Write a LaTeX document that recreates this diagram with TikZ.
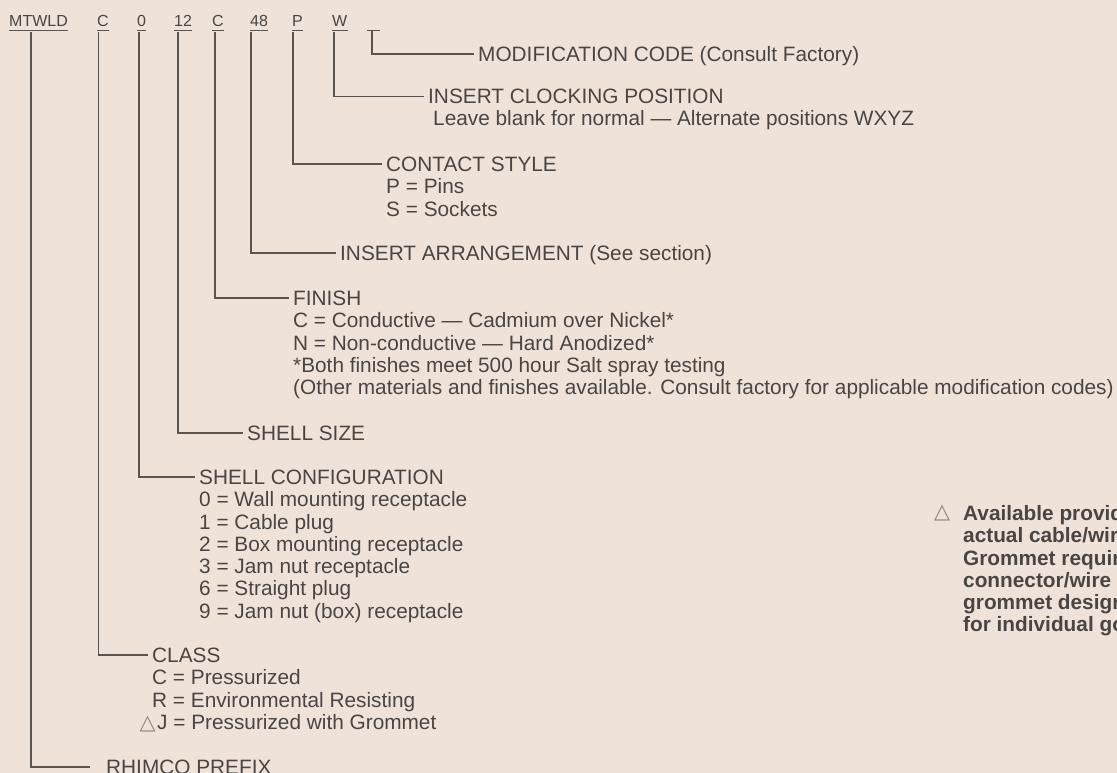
\documentclass[tikz,border=0pt]{standalone}
\usepackage{fontspec}
\setmainfont{Liberation Sans}
\newfontfamily\symfont{DejaVu Sans}
\usetikzlibrary{calc}
\definecolor{paper}{HTML}{EFE3D9}
\definecolor{ink}{HTML}{4A4542}
\definecolor{rulec}{HTML}{5A5551}
\definecolor{tri}{HTML}{8A8480}
\begin{document}
\begin{tikzpicture}[x=1pt,y=-1pt,
  code/.style={font=\fontsize{16}{16}\selectfont, text=ink, inner sep=0pt, anchor=base west, text depth=0pt},
  uline/.style={draw=rulec, line width=1.2pt},
  conn/.style={draw=rulec, line width=1.3pt},
  head/.style={font=\fontsize{20.8}{22.3}\selectfont, text=ink, inner xsep=4.5pt, inner ysep=0pt, text height=14.9pt, text depth=0pt, anchor=west},
  body/.style={font=\fontsize{20.8}{22.3}\selectfont, text=ink, inner sep=0pt, anchor=base west},
  note/.style={font=\bfseries\fontsize{20.8}{22.3}\selectfont, text=ink, inner sep=0pt, anchor=base west}]
\fill[paper] (0,0) rectangle (1117,773);
\useasboundingbox (0,0) rectangle (1117,773);
\clip (0,0) rectangle (1117,773);
% code row
\node[code] (m) at (9,27) {MTWLD};
\node[code] (c1) at (97,27) {C};
\node[code] (s0) at (137,27) {0};
\node[code] (sz) at (174,27) {12};
\node[code] (c2) at (212,27) {C};
\node[code] (ia) at (250,27) {48};
\node[code] (cp) at (292,27) {P};
\node[code] (w) at (332,27) {W};
\node[code, minimum width=13pt] (bl) at (367,27) {};
\foreach \n in {m,c1,s0,sz,c2,ia,cp,w,bl}
  \draw[uline] ([yshift=-3pt]\n.south west) -- ([yshift=-3pt]\n.south east);
% headings
\node[head] (mod) at (473.5,54) {MODIFICATION CODE (Consult Factory)};
\node[head] (clk) at (423.5,96.5) {INSERT CLOCKING POSITION};
\node[body] (clk1) at (433,125.5) {Leave blank for normal — Alternate positions WXYZ};
\node[head] (con) at (381.5,164) {CONTACT STYLE};
\node[body] (con1) at (386,193.75) {P = Pins};
\node[body] (con2) at (386,216.05) {S = Sockets};
\node[head] (arr) at (335.5,253) {INSERT ARRANGEMENT (See section)};
\node[head] (fin) at (288.5,298) {FINISH};
\node[body] (fin1) at (293,327.75) {C = Conductive — Cadmium over Nickel*};
\node[body] (fin2) at (293,350.05) {N = Non-conductive — Hard Anodized*};
\node[body] (fin3) at (293,372.35) {*Both finishes meet 500 hour Salt spray testing};
\node[body] (fin4) at (293,394.65) {(Other materials and finishes available. Consult factory for applicable modification codes)};
\node[head] (size) at (242.5,433) {SHELL SIZE};
\node[head] (cfg) at (194.5,477) {SHELL CONFIGURATION};
\node[body] (cfg1) at (199,506.75) {0 = Wall mounting receptacle};
\node[body] (cfg2) at (199,529.05) {1 = Cable plug};
\node[body] (cfg3) at (199,551.35) {2 = Box mounting receptacle};
\node[body] (cfg4) at (199,573.65) {3 = Jam nut receptacle};
\node[body] (cfg5) at (199,595.95) {6 = Straight plug};
\node[body] (cfg6) at (199,618.25) {9 = Jam nut (box) receptacle};
\node[head] (cls) at (147.5,655) {CLASS};
\node[body] (cls1) at (152,684.75) {C = Pressurized};
\node[body] (cls2) at (152,707.05) {R = Environmental Resisting};
\node[body] (cls3) at (157,729.35) {\llap{\textcolor{tri}{\symfont △}\hspace{1.5pt}}J = Pressurized with Grommet};
\node[head] (pre) at (101.5,767) {RHIMCO PREFIX};
% connectors
\draw[conn] ([xshift=22pt,yshift=-5pt]m.south west) |- ([xshift=-12pt]pre.west);
\draw[conn] ([xshift=1.5pt,yshift=-5pt]c1.south west) |- (cls.west);
\draw[conn] ([xshift=2pt,yshift=-5pt]s0.south west) |- (cfg.west);
\draw[conn] ([xshift=4pt,yshift=-5pt]sz.south west) |- (size.west);
\draw[conn] ([xshift=3pt,yshift=-5pt]c2.south west) |- (fin.west);
\draw[conn] ([xshift=1pt,yshift=-5pt]ia.south west) |- (arr.west);
\draw[conn] ([xshift=1pt,yshift=-5pt]cp.south west) |- (con.west);
\draw[conn] ([xshift=2pt,yshift=-5pt]w.south west) |- (clk.west);
\draw[conn] ([xshift=5pt,yshift=-3pt]bl.south west) |- (mod.west);
% note
\node[font=\symfont\fontsize{20.8}{20.8}\selectfont, text=tri, inner sep=0pt] (tr) at (942,513) {△};
\node[note] (n1) at (963,520.45) {Available provid};
\node[note] (n2) at (963,542.75) {actual cable/wir};
\node[note] (n3) at (963,565.05) {Grommet requir};
\node[note] (n4) at (963,587.35) {connector/wire};
\node[note] (n5) at (963,609.65) {grommet design};
\node[note] (n6) at (963,631.95) {for individual go};
\end{tikzpicture}
\end{document}
